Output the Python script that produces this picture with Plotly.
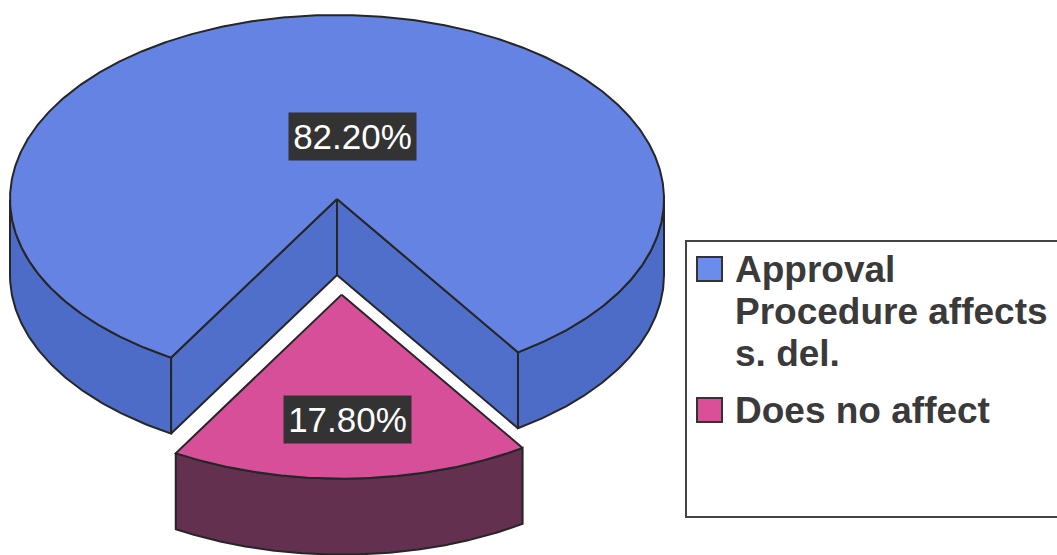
import numpy as np
import plotly.graph_objects as go

# ---- data -------------------------------------------------------------
labels = ["Approval<br>Procedure affects<br>s. del.", "Does no affect"]
shares = [82.2, 17.8]
share_text = ["82.20%", "17.80%"]

# ---- styling ----------------------------------------------------------
top_colors = ["#6583E2", "#D64F98"]
side_colors = ["#4C6CC8", "#633050"]
cut_colors = ["#4F6FCB", "#633050"]
swatch_colors = ["#6A8CEA", "#DA4F98"]
explode = [0.0, 0.52]
label_frac = [0.34, 0.68]
label_dx = [19, 0]

W, H = 1057, 555
CX, CY, RX, RY, DEPTH = 337, 199, 327, 184, 76
START = 303.6          # where the first slice begins (deg, counter-clockwise)
OUTLINE = "#262626"
TEXT = "#3a3a3a"
FONT = "Liberation Sans, Arial, sans-serif"


def ellipse_pts(thetas, ox=0.0, oy=0.0, drop=0.0):
    t = np.radians(thetas)
    return CX + ox + RX * np.cos(t), CY + oy - RY * np.sin(t) + drop


def poly(xs, ys, fill):
    return go.Scatter(
        x=list(xs) + [xs[0]], y=list(ys) + [ys[0]],
        mode="lines", fill="toself", fillcolor=fill,
        line=dict(color=OUTLINE, width=2),
        hoverinfo="skip", showlegend=False,
    )


fig = go.Figure()

total = sum(shares)
a = START
slices = []
for i, v in enumerate(shares):
    span = v / total * 360.0
    a0, a1 = a, a + span
    mid = np.radians((a0 + a1) / 2)
    ox = explode[i] * RX * np.cos(mid)
    oy = -explode[i] * RY * np.sin(mid)
    slices.append((a0, a1, ox, oy, mid))
    a = a1

for i, (a0, a1, ox, oy, mid) in enumerate(slices):
    # outer wall: only the part of the rim that faces the viewer
    th = np.linspace(a0, a1, 600)
    front = np.sin(np.radians(th)) < 0
    runs, cur = [], []
    for t, f in zip(th, front):
        if f:
            cur.append(t)
        elif cur:
            runs.append(cur)
            cur = []
    if cur:
        runs.append(cur)
    for run in runs:
        run = np.array(run)
        tx, ty = ellipse_pts(run, ox, oy)
        bx, by = ellipse_pts(run[::-1], ox, oy, DEPTH)
        fig.add_trace(poly(np.r_[tx, bx], np.r_[ty, by], side_colors[i]))

    # radial cut faces that turn towards the viewer
    apx, apy = CX + ox, CY + oy
    for edge, normal in ((a0, a0 - 90), (a1, a1 + 90)):
        if np.sin(np.radians(normal)) < 0:
            ex, ey = ellipse_pts(np.array([edge]), ox, oy)
            xs = [apx, ex[0], ex[0], apx]
            ys = [apy, ey[0], ey[0] + DEPTH, apy + DEPTH]
            fig.add_trace(poly(xs, ys, cut_colors[i]))

    # top face
    th = np.linspace(a0, a1, 800)
    tx, ty = ellipse_pts(th, ox, oy)
    fig.add_trace(poly(np.r_[apx, tx], np.r_[apy, ty], top_colors[i]))

# value labels
for i, (a0, a1, ox, oy, mid) in enumerate(slices):
    lx = CX + ox + label_frac[i] * RX * np.cos(mid) + label_dx[i]
    ly = CY + oy - label_frac[i] * RY * np.sin(mid)
    fig.add_annotation(
        x=lx, y=ly, text=share_text[i], showarrow=False,
        xanchor="center", yanchor="middle",
        bgcolor="#333333", borderpad=0, width=127, height=47,
        font=dict(family=FONT, size=35, color="white"),
    )

# legend box
fig.add_shape(type="rect", x0=686, y0=241, x1=1064, y1=517,
              line=dict(color="#444444", width=2), fillcolor="white",
              layer="below")
LEG_X, LEG_Y, LINE_H, ITEM_GAP = 697, 269, 42, 15
y = LEG_Y
for i, lab in enumerate(labels):
    fig.add_shape(type="rect", x0=LEG_X, y0=y - 12, x1=LEG_X + 25, y1=y + 12,
                  line=dict(color="#333333", width=2),
                  fillcolor=swatch_colors[i])
    parts = lab.split("<br>")
    for j, line in enumerate(parts):
        fig.add_annotation(
            x=LEG_X + 36, y=y + j * LINE_H, text=line, showarrow=False,
            xanchor="left", yanchor="middle",
            font=dict(family=FONT, size=37, color=TEXT, weight="bold"),
        )
    y += len(parts) * LINE_H + ITEM_GAP

fig.update_layout(
    width=W, height=H, autosize=False,
    margin=dict(l=0, r=0, t=0, b=0, pad=0),
    paper_bgcolor="white", plot_bgcolor="white",
    xaxis=dict(range=[0, W], visible=False, fixedrange=True),
    yaxis=dict(range=[H, 0], visible=False, fixedrange=True),
    showlegend=False,
)

fig.write_html("out.html", config={"displayModeBar": False})
